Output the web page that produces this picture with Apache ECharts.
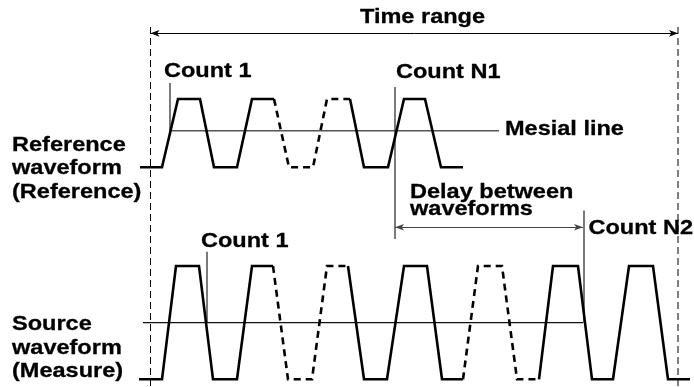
<!DOCTYPE html>
<html><head><meta charset="utf-8">
<script src="https://cdn.jsdelivr.net/npm/echarts@6/dist/echarts.min.js"></script>
<style>html,body{margin:0;padding:0;background:#fff}#c{width:694px;height:387px}</style>
</head><body><div id="c"></div>
<script>
// ---- Data (time in arbitrary units; level 0 = low, 1 = high) ----
const timeRange = [150.5, 678];
const refSolidA = [[140,0],[162,0],[178,1],[200,1],[214,0],[237,0],[252,1],[274,1]];
const refDashed = [[274,1],[289,0],[313,0],[327,1],[350,1]];
const refSolidB = [[350,1],[364,0],[388,0],[404,1],[425,1],[441,0],[463,0]];
const refMesialLevel = 0.535;
const refMesialSpan = [170, 499];

const srcSolidA = [[139,0],[162,0],[176,1],[199,1],[213,0],[237,0],[252,1],[273,1]];
const srcDashedA = [[273,1],[288,0],[312,0],[327,1],[348,1]];
const srcSolidB = [[348,1],[364,0],[387,0],[404,1],[427,1],[442,0],[463,0]];
const srcDashedB = [[463,0],[478,1],[502,1],[517,0],[539,0]];
const srcSolidC = [[539,0],[553,1],[578,1],[592,0],[613,0],[629,1],[653,1],[668,0],[690,0]];
const srcMesialLevel = 0.5;
const srcMesialSpan = [143, 583];

// count markers: [time, top level, bottom level]
const refCount1 = [170, 1.234, 0.535];
const refCountN1 = [395, 1.176, -1.05];
const srcCount1 = [207, 1.126, 0.5];
const srcCountN2 = [584, 1.49, 0.5];
const delaySpan = [395, 583];
const delayLevel = 1.342;     // source-axis level of the delay arrow
const timeRangeLevel = 1.962; // reference-axis level of the time-range arrow
const timeRangeTop = 2.054;

const labels = {
  timeRange: 'Time range', count1: 'Count 1', countN1: 'Count N1', countN2: 'Count N2',
  mesial: 'Mesial line', delay: 'Delay between\nwaveforms',
  ref: 'Reference\nwaveform\n(Reference)', src: 'Source\nwaveform\n(Measure)'
};

// ---- Chart ----
const chart = echarts.init(document.getElementById('c'), null, {renderer: 'canvas'});
const W = 2.6;
function wave(data, yi, dashed) {
  return {type: 'line', data, yAxisIndex: yi, symbol: 'none', silent: true, animation: false,
    lineStyle: {color: '#000', width: W, type: dashed ? [7, 5] : 'solid', join: 'miter', cap: 'butt'}, z: 3};
}
function seg(data, yi, color, width, type) {
  return {type: 'line', data, yAxisIndex: yi, symbol: 'none', silent: true, animation: false,
    lineStyle: {color, width, type: type || 'solid'}, z: 2};
}
function arrow(x1, x2, y, yi, color) {
  return {type: 'line', data: [], yAxisIndex: yi, silent: true, animation: false,
    markLine: {silent: true, animation: false, symbol: ['arrow', 'arrow'], symbolSize: [5, 9],
      label: {show: false}, emphasis: {disabled: true},
      lineStyle: {color, width: 1, type: 'solid'},
      data: [[{coord: [x1, y]}, {coord: [x2, y]}]]}};
}
const font = 'bold 21px "Liberation Sans", Arial, sans-serif';
function txt(text, x, y, align, lh) {
  return {type: 'text', x, y, scaleX: 1.12, silent: true,
    style: {text, font, fill: '#000', stroke: '#000', lineWidth: 0.3,
      align: align || 'left', verticalAlign: 'middle', lineHeight: lh || 21}};
}

chart.setOption({
  animation: false,
  backgroundColor: '#fff',
  grid: {left: 0, right: 0, top: 0, bottom: 0},
  xAxis: {type: 'value', min: 0, max: 694, show: false},
  yAxis: [
    {type: 'value', min: -3.2167, max: 2.4495, show: false},
    {type: 'value', min: -0.068, max: 3.3477, show: false}
  ],
  series: [
    seg([[timeRange[0], timeRangeTop], [timeRange[0], -3.3]], 0, '#000', 1, [7, 4]),
    seg([[timeRange[1], timeRangeTop], [timeRange[1], -3.3]], 0, '#000', 1, [7, 4]),
    arrow(timeRange[0], timeRange[1], timeRangeLevel, 0, '#000'),
    seg([[refMesialSpan[0], refMesialLevel], [refMesialSpan[1], refMesialLevel]], 0, '#555', 1.5),
    seg([[srcMesialSpan[0], srcMesialLevel], [srcMesialSpan[1], srcMesialLevel]], 1, '#111', 1.2),
    seg([[refCount1[0], refCount1[1]], [refCount1[0], refCount1[2]]], 0, '#222', 1.2),
    seg([[refCountN1[0], refCountN1[1]], [refCountN1[0], refCountN1[2]]], 0, '#222', 1.2),
    seg([[srcCount1[0], srcCount1[1]], [srcCount1[0], srcCount1[2]]], 1, '#222', 1.2),
    seg([[srcCountN2[0], srcCountN2[1]], [srcCountN2[0], srcCountN2[2]]], 1, '#222', 1.2),
    arrow(delaySpan[0], delaySpan[1], delayLevel, 1, '#444'),
    wave(refSolidA, 0), wave(refDashed, 0, true), wave(refSolidB, 0),
    wave(srcSolidA, 1), wave(srcDashedA, 1, true), wave(srcSolidB, 1),
    wave(srcDashedB, 1, true), wave(srcSolidC, 1)
  ],
  graphic: [
    txt(labels.timeRange, 422.5, 17.5, 'center'),
    txt(labels.count1, 164, 71.5),
    txt(labels.countN1, 396, 72),
    txt(labels.mesial, 505, 129),
    txt(labels.ref, 12, 168.6, 'left', 23.3),
    txt(labels.src, 12, 348, 'left', 23.6),
    txt(labels.count1, 201, 241),
    txt(labels.delay, 410, 200.8, 'left', 16.5),
    txt(labels.countN2, 588.5, 228)
  ]
});
</script></body></html>
